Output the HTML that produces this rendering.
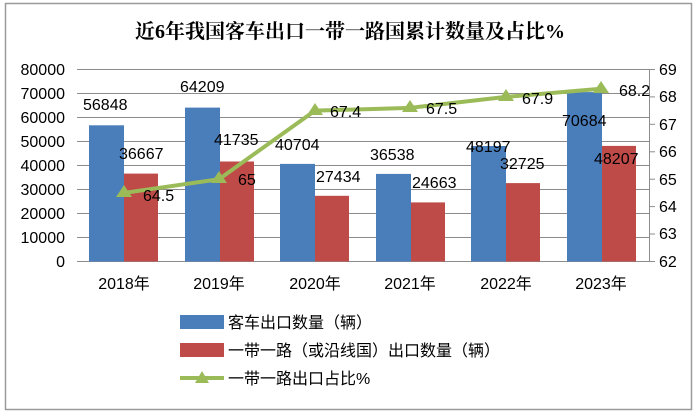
<!DOCTYPE html>
<html><head><meta charset="utf-8"><style>
body{margin:0;background:#fff;}
svg text{font-family:"Liberation Sans","Noto Sans CJK SC",sans-serif;}
</style></head><body>
<svg width="700" height="415" xmlns="http://www.w3.org/2000/svg">
<rect x="0" y="0" width="700" height="415" fill="#fff"/>
<rect x="5.5" y="3.5" width="686" height="406" fill="none" stroke="#9a9a9a" stroke-width="1.5"/>
<text x="350" y="38" text-anchor="middle" font-size="20" font-weight="bold" style="font-family:'Liberation Serif','Noto Serif CJK SC',serif">近6年我国客车出口一带一路国累计数量及占比%</text>
<g stroke="#8c8c8c" stroke-width="1">
<line x1="77" y1="69.5" x2="649" y2="69.5"/>
<line x1="77" y1="93.5" x2="649" y2="93.5"/>
<line x1="77" y1="117.5" x2="649" y2="117.5"/>
<line x1="77" y1="141.5" x2="649" y2="141.5"/>
<line x1="77" y1="165.5" x2="649" y2="165.5"/>
<line x1="77" y1="189.5" x2="649" y2="189.5"/>
<line x1="77" y1="213.5" x2="649" y2="213.5"/>
<line x1="77" y1="237.5" x2="649" y2="237.5"/>
<line x1="77" y1="261.5" x2="649" y2="261.5"/>
<line x1="649.5" y1="69" x2="649.5" y2="262"/>
<line x1="649" y1="69.5" x2="655" y2="69.5"/><line x1="649" y1="96.9" x2="655" y2="96.9"/><line x1="649" y1="124.3" x2="655" y2="124.3"/><line x1="649" y1="151.8" x2="655" y2="151.8"/><line x1="649" y1="179.2" x2="655" y2="179.2"/><line x1="649" y1="206.6" x2="655" y2="206.6"/><line x1="649" y1="234" x2="655" y2="234"/><line x1="649" y1="261.5" x2="655" y2="261.5"/>
</g>
<g font-size="16" fill="#000" text-anchor="end">
<text x="65" y="75">80000</text><text x="65" y="99">70000</text><text x="65" y="123">60000</text><text x="65" y="147">50000</text><text x="65" y="171">40000</text><text x="65" y="195">30000</text><text x="65" y="219">20000</text><text x="65" y="243">10000</text><text x="65" y="267">0</text>
</g>
<g font-size="16" fill="#000">
<text x="659" y="75">69</text><text x="659" y="102">68</text><text x="659" y="130">67</text><text x="659" y="157">66</text><text x="659" y="185">65</text><text x="659" y="212">64</text><text x="659" y="239">63</text><text x="659" y="267">62</text>
</g>
<g fill="#4a7ebb">
<rect x="89" y="125.3" width="35" height="136.2"/>
<rect x="185" y="107.6" width="35" height="153.9"/>
<rect x="280" y="163.9" width="35" height="97.6"/>
<rect x="376" y="173.9" width="35" height="87.6"/>
<rect x="471" y="146" width="35" height="115.5"/>
<rect x="567" y="92.1" width="35" height="169.4"/>
</g>
<g fill="#be4b48">
<rect x="124" y="173.6" width="34" height="87.9"/>
<rect x="220" y="161.5" width="34" height="100"/>
<rect x="315" y="195.8" width="34" height="65.7"/>
<rect x="411" y="202.4" width="34" height="59.1"/>
<rect x="506" y="183.1" width="34" height="78.4"/>
<rect x="602" y="145.9" width="34" height="115.6"/>
</g>
<polyline points="124,192.9 219,179.2 315,110.6 410,107.9 506,96.9 601,88.7" fill="none" stroke="#9bbb59" stroke-width="4"/>
<g fill="#9bbb59">
<polygon points="124,185 116,197 132,197"/><polygon points="219,171 211,183 227,183"/><polygon points="315,103 307,115 323,115"/><polygon points="410,100 402,112 418,112"/><polygon points="506,89 498,101 514,101"/><polygon points="601,81 593,93 609,93"/>
</g>
<g font-size="16" fill="#000">
<text x="83" y="110">56848</text><text x="119" y="159">36667</text><text x="143" y="201">64.5</text>
<text x="180" y="92">64209</text><text x="214" y="145">41735</text><text x="238" y="185">65</text>
<text x="275" y="150">40704</text><text x="316" y="182">27434</text><text x="330" y="117">67.4</text>
<text x="370" y="160">36538</text><text x="412" y="188">24663</text><text x="426" y="114">67.5</text>
<text x="466" y="152">48197</text><text x="500" y="169">32725</text><text x="522" y="104">67.9</text>
<text x="562" y="126">70684</text><text x="594" y="164">48207</text><text x="619" y="96">68.2</text>
</g>
<g font-size="16" fill="#000" text-anchor="middle">
<text x="124" y="289">2018年</text><text x="219" y="289">2019年</text><text x="315" y="289">2020年</text><text x="410" y="289">2021年</text><text x="506" y="289">2022年</text><text x="601" y="289">2023年</text>
</g>
<rect x="180" y="315" width="44" height="14" fill="#4a7ebb"/>
<rect x="180" y="343" width="44" height="14" fill="#be4b48"/>
<line x1="180" y1="378" x2="224" y2="378" stroke="#9bbb59" stroke-width="4"/>
<polygon points="202,371 195,383 209,383" fill="#9bbb59"/>
<g font-size="16" fill="#000">
<text x="228" y="328">客车出口数量（辆）</text>
<text x="228" y="356">一带一路（或沿线国）出口数量（辆）</text>
<text x="228" y="384">一带一路出口占比%</text>
</g>
</svg>
</body></html>
